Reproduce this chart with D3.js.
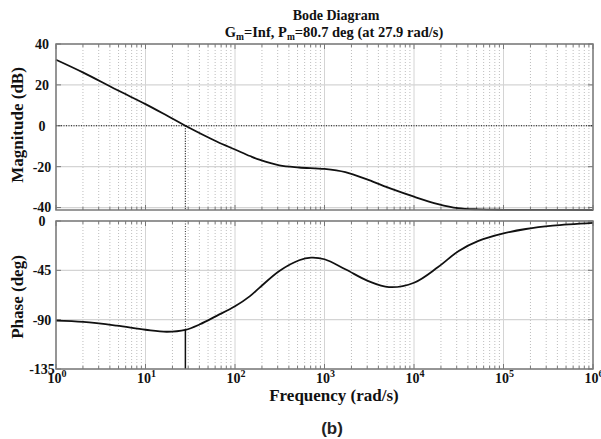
<!DOCTYPE html>
<html><head><meta charset="utf-8">
<script src="https://cdn.jsdelivr.net/npm/d3@7"></script>
<style>body{margin:0;background:#fff}</style>
</head><body>
<svg id="c" width="601" height="439"></svg>
<script>
// ---- data ----
const magFreq = [1, 2.02, 4.76, 10, 17.3, 27.9, 62.4, 100, 147, 187, 313, 521, 1000, 1710, 3090, 5620, 10000, 18600, 31000, 52500, 100000, 1000000];
const magDb   = [32.3, 26.0, 17.6, 10.6, 5.0, 0, -7.7, -11.6, -14.8, -16.6, -19.4, -20.4, -21.1, -22.7, -26.5, -30.9, -34.7, -38.3, -40.3, -40.9, -41.1, -41.2];
const phFreq  = [1, 2.02, 4.76, 10, 17.3, 27.9, 40.6, 62.4, 100, 147, 187, 313, 521, 708, 1000, 1710, 3090, 5250, 10000, 18600, 31600, 52500, 100000, 178000, 355000, 1000000];
const phDeg   = [-90.9, -92.1, -95.5, -99.2, -101.0, -99.3, -94.2, -86.5, -77.8, -68.5, -61.0, -45.6, -35.8, -33.4, -34.9, -44.0, -54.8, -60.3, -56.3, -42.0, -27.3, -18.1, -11.3, -7.3, -4.3, -1.8];
const magTicks = [-40, -20, 0, 20, 40];
const phTicks  = [0, -45, -90, -135];
const decadeExps = [0, 1, 2, 3, 4, 5, 6];
const crossFreq = 27.9;
const crossPhase = -99.3;
const titleText = "Bode Diagram";
const magLabel = "Magnitude (dB)";
const phLabel = "Phase (deg)";
const xLabel = "Frequency (rad/s)";
const captionText = "(b)";

// ---- layout ----
const svg = d3.select("#c");
const L = 56, R = 593;
const magTop = 44, magBot = 210;
const phTop = 221, phBot = 369;
const serif = "'Liberation Serif','Times New Roman',serif";

const x = d3.scaleLog().domain([1, 1e6]).range([L, R]);
const yMag = d3.scaleLinear().domain([-41.2, 40]).range([magBot, magTop]);
const yPh  = d3.scaleLinear().domain([-135, 0]).range([phBot, phTop]);

const majors = decadeExps.map(e => Math.pow(10, e));
const minors = [];
for (let e = 0; e < 6; e++) for (let k = 2; k <= 9; k++) minors.push(k * Math.pow(10, e));

function panel(y, top, bot, ticks) {
  const g = svg.append("g");
  g.selectAll(".mn").data(minors).enter().append("line")
    .attr("x1", d => x(d)).attr("x2", d => x(d)).attr("y1", top).attr("y2", bot)
    .attr("stroke", "#bdbdbd").attr("stroke-width", 1).attr("stroke-dasharray", "1,2");
  g.selectAll(".mj").data(majors).enter().append("line")
    .attr("x1", d => x(d)).attr("x2", d => x(d)).attr("y1", top).attr("y2", bot)
    .attr("stroke", "#d4d4d4").attr("stroke-width", 1);
  g.selectAll(".hg").data(ticks).enter().append("line")
    .attr("x1", L).attr("x2", R).attr("y1", d => y(d)).attr("y2", d => y(d))
    .attr("stroke", "#d4d4d4").attr("stroke-width", 1.2);
  const tk = (arr, len) => {
    arr.forEach(d => {
      g.append("line").attr("x1", x(d)).attr("x2", x(d)).attr("y1", bot).attr("y2", bot - len).attr("stroke", "#777");
      g.append("line").attr("x1", x(d)).attr("x2", x(d)).attr("y1", top).attr("y2", top + len).attr("stroke", "#777");
    });
  };
  tk(minors, 3); tk(majors, 5);
  ticks.forEach(d => {
    g.append("line").attr("x1", L).attr("x2", L + 5).attr("y1", y(d)).attr("y2", y(d)).attr("stroke", "#777");
    g.append("line").attr("x1", R).attr("x2", R - 5).attr("y1", y(d)).attr("y2", y(d)).attr("stroke", "#777");
  });
  g.selectAll(".yl").data(ticks).enter().append("text")
    .attr("x", 42).attr("y", d => y(d)).attr("dy", "0.35em")
    .attr("text-anchor", "middle").attr("font-family", serif).attr("font-weight", "bold")
    .attr("font-size", 14).attr("fill", "#111").text(d => d);
  return g;
}

const gm = panel(yMag, magTop, magBot, magTicks);
const gp = panel(yPh, phTop, phBot, phTicks);

gm.append("line").attr("x1", L).attr("x2", R).attr("y1", yMag(0)).attr("y2", yMag(0))
  .attr("stroke", "#111").attr("stroke-width", 1.2).attr("stroke-dasharray", "1,1.5");
gm.append("line").attr("x1", x(crossFreq)).attr("x2", x(crossFreq)).attr("y1", yMag(0)).attr("y2", magBot)
  .attr("stroke", "#111").attr("stroke-width", 1.2).attr("stroke-dasharray", "1,1.5");
gp.append("line").attr("x1", x(crossFreq)).attr("x2", x(crossFreq)).attr("y1", phTop).attr("y2", yPh(crossPhase))
  .attr("stroke", "#333").attr("stroke-width", 1).attr("stroke-dasharray", "1,1.5");
gp.append("line").attr("x1", x(crossFreq)).attr("x2", x(crossFreq)).attr("y1", yPh(crossPhase)).attr("y2", phBot)
  .attr("stroke", "#111").attr("stroke-width", 1.5);

const magLine = d3.line().x(d => x(d[0])).y(d => yMag(d[1])).curve(d3.curveCatmullRom.alpha(0.5));
const phLine  = d3.line().x(d => x(d[0])).y(d => yPh(d[1])).curve(d3.curveCatmullRom.alpha(0.5));
gm.append("path").datum(magFreq.map((f, i) => [f, magDb[i]])).attr("d", magLine)
  .attr("fill", "none").attr("stroke", "#111").attr("stroke-width", 1.8);
gp.append("path").datum(phFreq.map((f, i) => [f, phDeg[i]])).attr("d", phLine)
  .attr("fill", "none").attr("stroke", "#111").attr("stroke-width", 1.8);

[[magTop, magBot], [phTop, phBot]].forEach(([t, b]) => {
  svg.append("rect").attr("x", L).attr("y", t).attr("width", R - L).attr("height", b - t)
    .attr("fill", "none").attr("stroke", "#7a7a7a").attr("stroke-width", 1.5);
});

const xl = svg.selectAll(".xl").data(decadeExps).enter().append("text")
  .attr("x", d => x(Math.pow(10, d)) + 1).attr("y", 383)
  .attr("text-anchor", "middle").attr("font-family", serif).attr("font-weight", "bold")
  .attr("font-size", 14).attr("fill", "#111");
xl.append("tspan").text("10");
xl.append("tspan").attr("dy", -6).attr("font-size", 10).text(d => d);

svg.append("text").attr("x", 336).attr("y", 20).attr("text-anchor", "middle")
  .attr("font-family", serif).attr("font-weight", "bold").attr("font-size", 14).attr("fill", "#111")
  .text(titleText);
const sub = svg.append("text").attr("x", 334).attr("y", 37).attr("text-anchor", "middle")
  .attr("font-family", serif).attr("font-weight", "bold").attr("font-size", 14.5).attr("fill", "#111");
sub.append("tspan").text("G");
sub.append("tspan").attr("dy", 3).attr("font-size", 9.5).text("m");
sub.append("tspan").attr("dy", -3).text("=Inf, P");
sub.append("tspan").attr("dy", 3).attr("font-size", 9.5).text("m");
sub.append("tspan").attr("dy", -3).text("=80.7 deg (at 27.9 rad/s)");

svg.append("text").attr("transform", "translate(23,125) rotate(-90)").attr("text-anchor", "middle")
  .attr("font-family", serif).attr("font-weight", "bold").attr("font-size", 17).attr("fill", "#111").text(magLabel);
svg.append("text").attr("transform", "translate(23,297) rotate(-90)").attr("text-anchor", "middle")
  .attr("font-family", serif).attr("font-weight", "bold").attr("font-size", 17).attr("fill", "#111").text(phLabel);
svg.append("text").attr("x", 334).attr("y", 401).attr("text-anchor", "middle")
  .attr("font-family", serif).attr("font-weight", "bold").attr("font-size", 17).attr("fill", "#111").text(xLabel);
svg.append("text").attr("x", 332).attr("y", 434).attr("text-anchor", "middle")
  .attr("font-family", "'Liberation Sans',Arial,sans-serif").attr("font-weight", "bold").attr("font-size", 17).attr("fill", "#222").text(captionText);
</script>
</body></html>
